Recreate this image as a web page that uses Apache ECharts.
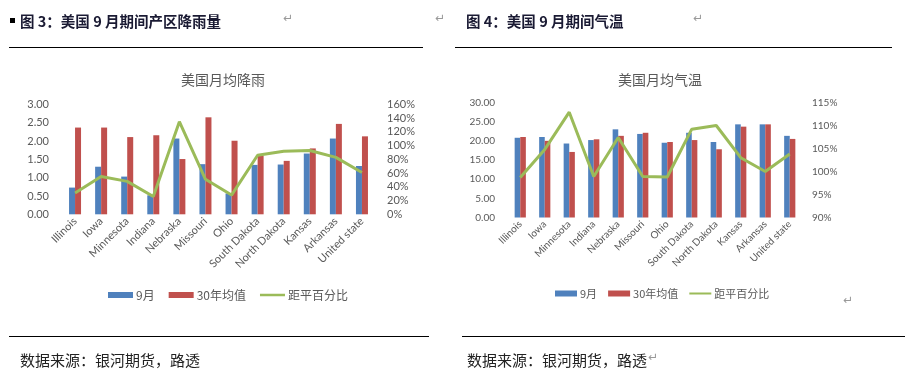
<!DOCTYPE html>
<html>
<head>
<meta charset="utf-8">
<script src="https://cdn.jsdelivr.net/npm/echarts@6/dist/echarts.min.js"></script>
<style>
html,body{margin:0;padding:0;background:#fff;}
#c{width:909px;height:380px;}
</style>
</head>
<body>
<div id="c"></div>
<script>
const categories = ['Illinois','Iowa','Minnesota','Indiana','Nebraska','Missouri','Ohio','South Dakota','North Dakota','Kansas','Arkansas','United state'];
const rainSep = [0.73,1.30,1.03,0.52,2.07,1.37,0.57,1.35,1.36,1.66,2.07,1.32];
const rainAvg = [2.37,2.37,2.11,2.16,1.51,2.65,2.01,1.60,1.46,1.80,2.47,2.13];
const rainPct = [31,55,48,26,135,51,28,86,92,93,83,61];
const tempSep = [20.8,21.0,19.3,20.2,23.0,21.8,19.5,22.1,19.7,24.3,24.3,21.3];
const tempAvg = [21.0,20.0,17.1,20.4,21.3,22.1,19.7,20.2,17.8,23.7,24.3,20.5];
const tempPct = [98.7,104.8,112.9,98.9,107.4,98.9,98.8,109.2,110.0,103.0,100.0,103.8];
const seriesNames = ['9月','30年均值','距平百分比'];
const rainTicks = {min:0,max:3,interval:0.5};
const rainPctTicks = {min:0,max:160,interval:20};
const tempTicks = {min:0,max:30,interval:5};
const tempPctTicks = {min:90,max:115,interval:5};

const BLUE='#4f81bd', RED='#c0504d', GREEN='#9bbb59', GREY='#595959';
const FONT='Lato, "Noto Sans CJK SC", sans-serif';
const CJK='"Noto Sans CJK SC", sans-serif';
const LINE_ICON='path://M0,0L0,0.01M0,2L30,2L30,5L0,5ZM0,7L0,7.01';

const chart = echarts.init(document.getElementById('c'), null, {renderer:'canvas'});

function xAx(gi, fs){
  return {type:'category', gridIndex:gi, data:categories,
    axisLine:{show:false}, axisTick:{show:false},
    axisLabel:{rotate:45, fontSize:fs, color:GREY, fontFamily:FONT, margin:5, interval:0}};
}
function yAx(gi, t, fmt, fs, margin){
  return {type:'value', gridIndex:gi, min:t.min, max:t.max, interval:t.interval,
    axisLine:{show:false}, axisTick:{show:false}, splitLine:{show:false},
    axisLabel:{formatter:fmt, fontSize:fs, color:GREY, fontFamily:FONT, margin:margin}};
}
function legendCfg(left, top, iw, fs, gap){
  return {left:left, top:top, itemWidth:iw, itemHeight:6, itemGap:gap,
    textStyle:{fontSize:fs, color:GREY, fontFamily:CJK, padding:[0,0,0,-2]},
    data:[{name:seriesNames[0], icon:'rect'},{name:seriesNames[1], icon:'rect'},{name:seriesNames[2], icon:LINE_ICON}]};
}

const option = {
  animation:false,
  backgroundColor:'#fff',
  title:[
    {text:'美国月均降雨', left:218, top:68, textAlign:'center',
     textStyle:{fontSize:14, fontWeight:'normal', color:GREY, fontFamily:CJK}},
    {text:'美国月均气温', left:655, top:68, textAlign:'center',
     textStyle:{fontSize:14, fontWeight:'normal', color:GREY, fontFamily:CJK}}
  ],
  legend:[legendCfg(103, 284, 25, 12, 14), legendCfg(550, 283, 22, 11, 11)],
  grid:[
    {left:62, top:104.5, width:313, height:109.8},
    {left:508, top:102.5, width:294, height:115}
  ],
  xAxis:[xAx(0,11), xAx(1,10)],
  yAxis:[
    yAx(0, rainTicks, v=>v.toFixed(2), 11, 13),
    yAx(0, rainPctTicks, '{value}%', 11, 12),
    yAx(1, tempTicks, v=>v.toFixed(2), 10, 13),
    yAx(1, tempPctTicks, '{value}%', 10, 10)
  ],
  series:[
    {name:seriesNames[0], type:'bar', xAxisIndex:0, yAxisIndex:0, data:rainSep, barWidth:6, barGap:'0%', itemStyle:{color:BLUE}},
    {name:seriesNames[1], type:'bar', xAxisIndex:0, yAxisIndex:0, data:rainAvg, barWidth:6, barGap:'0%', itemStyle:{color:RED}},
    {name:seriesNames[2], type:'line', xAxisIndex:0, yAxisIndex:1, data:rainPct, symbol:'none', lineStyle:{color:GREEN, width:3}, itemStyle:{color:GREEN}},
    {name:seriesNames[0], type:'bar', xAxisIndex:1, yAxisIndex:2, data:tempSep, barWidth:5.6, barGap:'0%', itemStyle:{color:BLUE}},
    {name:seriesNames[1], type:'bar', xAxisIndex:1, yAxisIndex:2, data:tempAvg, barWidth:5.6, barGap:'0%', itemStyle:{color:RED}},
    {name:seriesNames[2], type:'line', xAxisIndex:1, yAxisIndex:3, data:tempPct, symbol:'none', lineStyle:{color:GREEN, width:3}, itemStyle:{color:GREEN}}
  ],
  graphic:[
    {type:'rect', shape:{x:10, y:18, width:5, height:5}, style:{fill:'#000'}},
    {type:'text', x:20, y:21, style:{text:'图 3：美国 9 月期间产区降雨量', fill:'#1a1a33', font:'bold 14.5px "Noto Sans CJK SC", sans-serif', textVerticalAlign:'middle'}},
    {type:'text', x:466, y:21, style:{text:'图 4：美国 9 月期间气温', fill:'#1a1a33', font:'bold 14.5px "Noto Sans CJK SC", sans-serif', textVerticalAlign:'middle'}},
    {type:'text', x:283, y:19, style:{text:'↵', font:'12px "DejaVu Sans", sans-serif', fill:'#999', textVerticalAlign:'middle'}},
    {type:'text', x:435, y:19, style:{text:'↵', font:'12px "DejaVu Sans", sans-serif', fill:'#999', textVerticalAlign:'middle'}},
    {type:'text', x:693, y:19, style:{text:'↵', font:'12px "DejaVu Sans", sans-serif', fill:'#999', textVerticalAlign:'middle'}},
    {type:'text', x:843, y:301, style:{text:'↵', font:'12px "DejaVu Sans", sans-serif', fill:'#999', textVerticalAlign:'middle'}},
    {type:'line', shape:{x1:9, y1:47.5, x2:423, y2:47.5}, style:{stroke:'#000', lineWidth:1.2}},
    {type:'line', shape:{x1:455, y1:47.5, x2:892, y2:47.5}, style:{stroke:'#000', lineWidth:1.2}},
    {type:'line', shape:{x1:9, y1:336.5, x2:429, y2:336.5}, style:{stroke:'#000', lineWidth:1.2}},
    {type:'line', shape:{x1:462, y1:336.5, x2:905, y2:336.5}, style:{stroke:'#000', lineWidth:1.2}},
    {type:'text', x:20, y:360, style:{text:'数据来源：银河期货，路透', font:'15px "Noto Sans CJK SC", sans-serif', fill:'#222', textVerticalAlign:'middle'}},
    {type:'text', x:467, y:360, style:{text:'数据来源：银河期货，路透', font:'15px "Noto Sans CJK SC", sans-serif', fill:'#222', textVerticalAlign:'middle'}},
    {type:'text', x:648, y:358, style:{text:'↵', font:'12px "DejaVu Sans", sans-serif', fill:'#999', textVerticalAlign:'middle'}}
  ]
};
chart.setOption(option);
</script>
</body>
</html>
